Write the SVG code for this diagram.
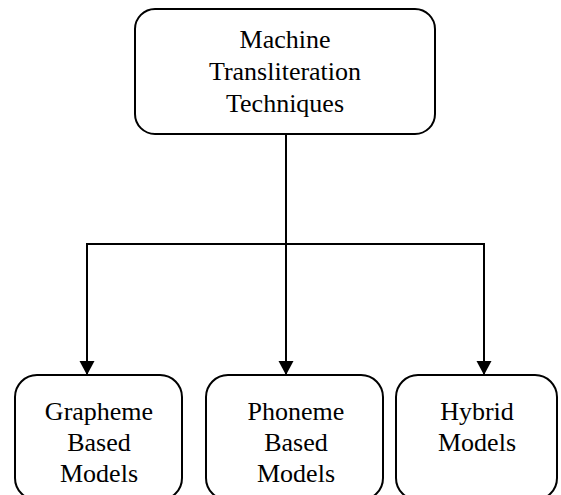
<svg xmlns="http://www.w3.org/2000/svg" width="561" height="495" viewBox="0 0 561 495">
<style>
.box{fill:#fff;stroke:#000;stroke-width:2}
.lbl{font-family:"Liberation Serif","Times New Roman",serif;font-size:26px;fill:#000;text-anchor:middle}
.conn{fill:none;stroke:#000;stroke-width:2}
</style>
<defs>
<marker id="arr" markerUnits="userSpaceOnUse" markerWidth="16" markerHeight="16" viewBox="0 0 16 16" refX="14" refY="8" orient="auto">
<path d="M0,0.5 L14,8 L0,15.5 Z" fill="#000"/>
</marker>
</defs>
<rect width="561" height="495" fill="#fff"/>
<g id="connectors">
<path class="conn" d="M286,134 V375" marker-end="url(#arr)"/>
<path class="conn" d="M87,375 V244 H484 V375" marker-end="url(#arr)"/>
<path class="conn" d="M87,244 V375" marker-end="url(#arr)"/>
</g>
<g id="root">
<rect class="box" x="135" y="9" width="300" height="125" rx="20"/>
<text class="lbl" x="285" y="48">Machine</text>
<text class="lbl" x="285" y="80">Transliteration</text>
<text class="lbl" x="285" y="112">Techniques</text>
</g>
<g id="grapheme">
<rect class="box" x="15" y="375" width="167" height="125" rx="22"/>
<text class="lbl" x="99" y="420">Grapheme</text>
<text class="lbl" x="99" y="451">Based</text>
<text class="lbl" x="99" y="482">Models</text>
</g>
<g id="phoneme">
<rect class="box" x="206" y="375" width="177" height="125" rx="22"/>
<text class="lbl" x="296" y="420">Phoneme</text>
<text class="lbl" x="296" y="451">Based</text>
<text class="lbl" x="296" y="482">Models</text>
</g>
<g id="hybrid">
<rect class="box" x="396" y="375" width="161" height="125" rx="22"/>
<text class="lbl" x="477" y="420">Hybrid</text>
<text class="lbl" x="477" y="451">Models</text>
</g>
</svg>
